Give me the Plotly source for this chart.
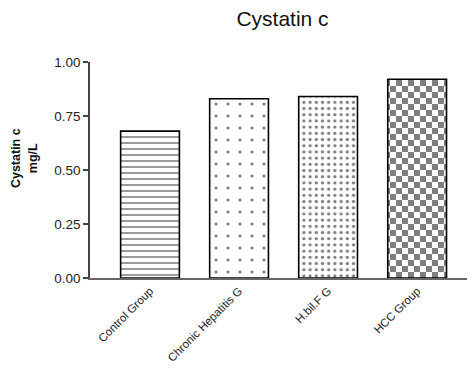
import plotly.graph_objects as go

categories = ["Control Group", "Chronic Hepatitis G", "H.bil.F G", "HCC Group"]
values = [0.68, 0.83, 0.84, 0.92]
y_ticks = [0.00, 0.25, 0.50, 0.75, 1.00]
y_tick_labels = ["0.00", "0.25", "0.50", "0.75", "1.00"]

Pattern = go.bar.marker.Pattern
has_path = "path" in Pattern()._valid_props

patterns = [
    dict(shape="-", size=6, solidity=0.28, fgcolor="#111", bgcolor="white"),
    dict(shape=".", size=12, solidity=0.055, fgcolor="black", bgcolor="white"),
    dict(shape=".", size=6.2, solidity=0.22, fgcolor="black", bgcolor="white"),
]
if has_path:
    patterns.append(dict(path="M0,0H6V6H0ZM6,6H12V12H6Z", size=12, fgcolor="black", bgcolor="white"))
else:
    patterns.append(dict(shape="x", size=10, solidity=0.5, fgcolor="black", bgcolor="white"))

fig = go.Figure()
for cat, val, pat in zip(categories, values, patterns):
    fig.add_trace(go.Bar(
        x=[cat], y=[val], width=0.66,
        marker=dict(color="white", line=dict(color="black", width=1.6), pattern=pat),
        showlegend=False,
    ))

fig.update_layout(
    width=467, height=364,
    margin=dict(l=82, r=0, t=54, b=94),
    paper_bgcolor="white", plot_bgcolor="white",
    font=dict(family="Liberation Sans, Arial, sans-serif", color="#222"),
    title=dict(text="Cystatin c", x=0.5, xref="paper", xanchor="center",
               y=0.97, yref="container", yanchor="middle", font=dict(size=21, color="#111")),
    annotations=[dict(
        text="<b>Cystatin c<br>mg/L</b>", textangle=-90, showarrow=False,
        xref="paper", yref="paper", x=-0.171, y=0.556, xanchor="center", yanchor="middle",
        font=dict(size=12.5, color="#111"),
    )],
)
fig.update_xaxes(
    range=[-0.674, 3.65], showline=True, linecolor="#666", linewidth=1.5,
    ticks="", tickangle=-45, tickfont=dict(size=11.5, color="#222"),
    showgrid=False, zeroline=False, fixedrange=True,
)
fig.update_yaxes(
    range=[0, 1.0], tickvals=y_ticks, ticktext=y_tick_labels,
    showline=True, linecolor="#444", linewidth=1.5,
    ticks="outside", ticklen=5, tickwidth=1.5, tickcolor="#444",
    tickfont=dict(size=13.5, color="#222"), showgrid=False, zeroline=False,
)
fig.write_html("out.html")
